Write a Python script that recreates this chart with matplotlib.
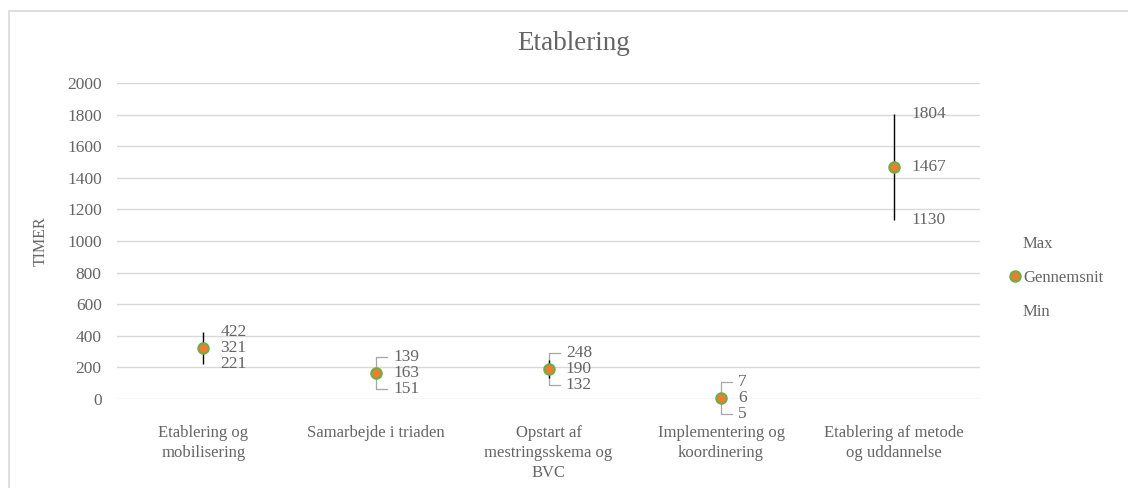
import matplotlib
matplotlib.use("Agg")
import matplotlib.pyplot as plt
from matplotlib.lines import Line2D
from matplotlib.patches import Rectangle

# Hours per phase: max, mean and min
CATEGORIES = [
    "Etablering og\nmobilisering",
    "Samarbejde i triaden",
    "Opstart af\nmestringsskema og\nBVC",
    "Implementering og\nkoordinering",
    "Etablering af metode\nog uddannelse",
]
MAX_VALS = [422, 139, 248, 7, 1804]
MEAN_VALS = [321, 163, 190, 6, 1467]
MIN_VALS = [221, 151, 132, 5, 1130]
Y_TICKS = list(range(0, 2001, 200))

TEXT = "#656565"
GRID = "#d9d9d9"
ORANGE = "#ED7D31"
GREEN = "#70AD47"

plt.rcParams["font.family"] = ["Liberation Serif", "DejaVu Serif"]

fig = plt.figure(figsize=(11.28, 4.88), dpi=100)
ax = fig.add_axes([117 / 1128, 1 - 399 / 488, 863 / 1128, 316 / 488])

x = list(range(len(CATEGORIES)))
ax.set_xlim(-0.5, len(CATEGORIES) - 0.5)
ax.set_ylim(0, 2000)

# high-low lines
lows = [min(a, b, c) for a, b, c in zip(MAX_VALS, MEAN_VALS, MIN_VALS)]
highs = [max(a, b, c) for a, b, c in zip(MAX_VALS, MEAN_VALS, MIN_VALS)]
ax.vlines(x, lows, highs, color="black", lw=1, zorder=3)

ax.plot(x, MEAN_VALS, ls="none", marker="o", ms=7.5, mfc=ORANGE, mec=GREEN,
        mew=1.5, zorder=4, clip_on=False)

# data labels, pushed apart when they would overlap, with leader lines
sep = 101
for i, (hi, m, lo) in enumerate(zip(MAX_VALS, MEAN_VALS, MIN_VALS)):
    y_hi = m + max(hi - m, sep)
    y_lo = m - max(m - lo, sep)
    for val, y_lab in ((hi, y_hi), (m, m), (lo, y_lo)):
        ax.text(i + 0.1, y_lab, str(val), color=TEXT, fontsize=12.5,
                va="center", ha="left", clip_on=False)
        if val != m and abs(y_lab - val) > 1:
            ax.plot([i, i, i + 0.065], [m, y_lab, y_lab], color="#a6a6a6",
                    lw=0.9, zorder=2, clip_on=False)

ax.set_yticks(Y_TICKS)
ax.set_xticks(x)
ax.set_xticklabels(CATEGORIES, fontsize=12, color=TEXT, linespacing=1.3)
ax.tick_params(axis="y", length=0, pad=11, labelsize=12.5, labelcolor=TEXT)
ax.tick_params(axis="x", length=0, pad=19)
ax.grid(axis="y", color=GRID, lw=1)
ax.set_axisbelow(True)
for s in ax.spines.values():
    s.set_visible(False)

ax.set_ylabel("TIMER", fontsize=11.5, color=TEXT)
ax.yaxis.set_label_coords(-0.0788, 0.5)

fig.text(574 / 1128, 1 - 44 / 488, "Etablering", fontsize=19.5, color=TEXT,
         ha="center", va="center")

handles = [
    Line2D([], [], ls="none", marker="none"),
    Line2D([], [], ls="none", marker="o", ms=7.5, mfc=ORANGE, mec=GREEN, mew=1.5),
    Line2D([], [], ls="none", marker="none"),
]
fig.legend(handles, ["Max", "Gennemsnit", "Min"], loc="center left",
           bbox_to_anchor=(1008 / 1128, 1 - 278 / 488), frameon=False,
           fontsize=12, labelcolor=TEXT, handlelength=0.8, handletextpad=0.1,
           borderpad=0, borderaxespad=0, labelspacing=1.1)

fig.add_artist(Rectangle((9 / 1128, -0.1), 1.2, 1.1 - 11.5 / 488,
                         transform=fig.transFigure, fill=False, ec=GRID,
                         lw=1.2, clip_on=False))

fig.savefig("out.png", dpi=100)
